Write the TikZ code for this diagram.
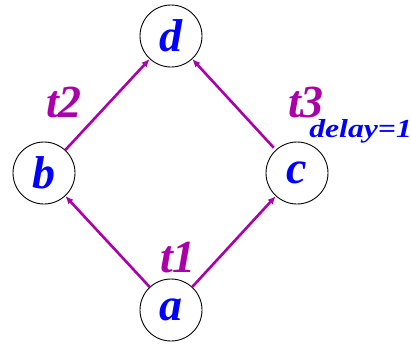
\documentclass[tikz,border=0pt]{standalone}
\usepackage{fontspec}
\usetikzlibrary{arrows.meta}
\newfontfamily\labelfont{Liberation Serif}[UprightFont=*-Bold Italic]
\definecolor{arcpurple}{RGB}{170,0,170}
\definecolor{lblblue}{RGB}{0,0,255}
\begin{document}
\begin{tikzpicture}[x=1pt,y=-1pt,
  place/.style={circle,draw=black,line width=0.9pt,minimum size=62pt,inner sep=0pt,
    text=lblblue,font=\fontsize{46}{46}\labelfont},
  arc/.style={draw=arcpurple,line width=2.6pt,-{Latex[length=8pt,width=7pt]}},
  tlabel/.style={text=arcpurple,font=\fontsize{46}{46}\labelfont}]
\useasboundingbox (0,0) rectangle (411,343);

\node[place] (d) at (171,36) {d};
\node[place] (b) at (44,173) {b};
\node[place] (c) at (297,173) {c};
\node[place] (a) at (171,310) {a};

\draw[arc] (a) -- (b);
\draw[arc] (a) -- (c);
\draw[arc] (b) -- (d);
\draw[arc,shorten <=3pt] (c) -- (d);

\node[tlabel] (t1) at (178,258) {t1};
\node[tlabel] (t2) at (64,102) {t2};
\node[tlabel] (t3) at (306,102) {t3};
\node[text=lblblue,anchor=west,inner sep=0pt,font=\fontsize{26}{26}\labelfont,
  xscale=1.22,transform shape] (dl) at (309,131) {delay=1};
\end{tikzpicture}
\end{document}
